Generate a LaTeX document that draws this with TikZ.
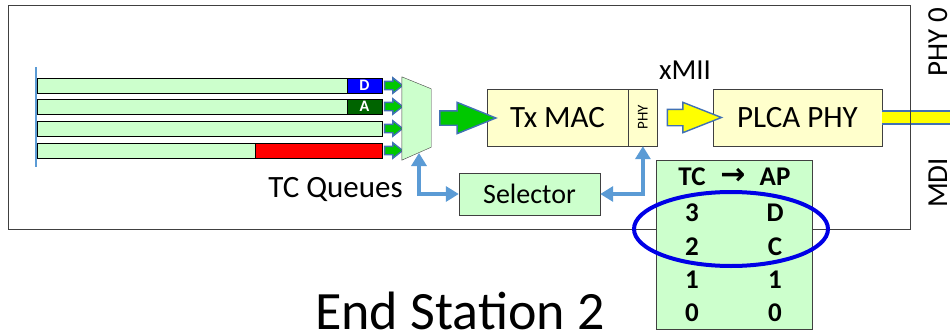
\documentclass[tikz,border=0pt]{standalone}
\usepackage{fontspec}
\setmainfont{Carlito}
\newfontfamily\symfont{DejaVu Sans}
\usetikzlibrary{arrows.meta,positioning,shapes.geometric,shapes.arrows,calc}
\definecolor{qgreen}{RGB}{204,255,204}
\definecolor{boxyellow}{RGB}{255,255,204}
\definecolor{flowgreen}{RGB}{0,200,0}
\definecolor{flowyellow}{RGB}{255,255,0}
\definecolor{linkblue}{RGB}{91,155,213}
\definecolor{edgeblue}{RGB}{65,113,180}
\definecolor{tagdarkgreen}{RGB}{0,100,0}
\definecolor{ringblue}{RGB}{0,0,230}
\newcommand{\fs}[1]{\fontsize{#1}{#1}\selectfont}
\tikzset{
    queuebar/.style={draw, fill=qgreen, minimum width=345pt, minimum height=15pt, inner sep=0pt},
    tagbox/.style={draw, minimum width=35pt, minimum height=15pt, inner sep=0pt,
        text=white, font=\fs{16}\bfseries},
    blockbox/.style={draw=black!75, fill=boxyellow, minimum height=57pt, inner sep=0pt, font=\fs{31}},
    greenbox/.style={draw=black!75, fill=qgreen, inner sep=0pt},
    flowarrow/.style={single arrow, draw=edgeblue, line width=1.4pt, inner xsep=0pt},
    linkarrow/.style={{Triangle[length=13pt,width=15pt]}-{Triangle[length=13pt,width=15pt]},
        draw=linkblue, line width=3.5pt},
    tabtext/.style={font=\fs{27}\bfseries, inner sep=0pt},
    sidetext/.style={rotate=90, font=\fs{29}, inner sep=0pt, anchor=base}
}
\begin{document}
\begin{tikzpicture}[x=1pt, y=-1pt]
\useasboundingbox (0,0) rectangle (950,332);
\coordinate (mdi) at (950,117.5);
\node[blockbox, minimum width=169pt] (plca) at (797.5,117.5) {PLCA PHY};
\draw[edgeblue, line width=15pt] (plca.east) -- (mdi);
\draw[flowyellow, line width=11pt] (plca.east) -- (mdi);
\draw[black!75, line width=0.8pt] (8,5) rectangle (910,229);
\node[sidetext] (phyzero) at (947,42) {PHY 0};
\node[sidetext] (mdilabel) at (947,183) {MDI};

\draw[linkblue, line width=2.6pt] (36,67) -- (36,167);
\foreach \y/\n in {85.5/1, 106.5/2, 128.5/3, 150.5/4} {
    \node[queuebar] (q\n) at (209.5,\y) {};
    \node[flowarrow, fill=flowgreen, minimum height=18pt, inner ysep=3.5pt,
        single arrow head extend=3.5pt, single arrow tip angle=76] (qa\n) at (391,\y) {};
}
\node[tagbox, fill=blue] (tagd) at (364.5,85.5) {D};
\node[tagbox, fill=tagdarkgreen] (taga) at (364.5,106.5) {A};
\node[draw, fill=red, minimum width=127pt, minimum height=15pt, inner sep=0pt] (tagred) at (318.5,150.5) {};
\node[font=\fs{31}] (tcq) at (335.5,189) {TC Queues};

\node[minimum width=29pt, minimum height=83pt, inner sep=0pt] (mux) at (416.5,118.5) {};
\draw[black!75, fill=qgreen] (mux.north west) -- ($(mux.north east)+(0,12)$)
    -- ($(mux.south east)+(0,-13)$) -- (mux.south west) -- cycle;
\coordinate (muxfoot) at (419,153);

\node[blockbox, minimum width=141pt] (txmac) at (557.5,117.5) {Tx MAC};
\node[blockbox, minimum width=29pt, right=0pt of txmac, font=\fs{15}] (phy) {\rotatebox{90}{PHY}};
\node[font=\fs{29}] (xmii) at (685,70) {xMII};

\node[flowarrow, fill=flowgreen, minimum height=56pt, inner ysep=6.5pt,
    single arrow head extend=8.5pt, single arrow tip angle=44] (bigflow) at (459,118) {};
\node[flowarrow, fill=flowyellow, minimum height=54pt, inner ysep=7.5pt,
    single arrow head extend=7pt, single arrow tip angle=43] (miiflow) at (684,117.5) {};

\node[greenbox, minimum width=141pt, minimum height=42pt, font=\fs{28}] (sel) at (529.5,194) {Selector};
\draw[linkarrow] (muxfoot) |- (sel.west);
\draw[linkarrow] (sel.east) -| (phy.south);

\node[greenbox, minimum width=156pt, minimum height=169pt] (map) at (734,244.5) {};
\node[tabtext] (tchead) at (692,177) {TC};
\node[font=\fs{30}\symfont\bfseries, inner sep=0pt] (maparrow) at (733,176) {→};
\node[tabtext] (aphead) at (775,177) {AP};
\foreach \y/\tc/\ap in {213/3/D, 247/2/C, 280/1/1, 313/0/0} {
    \node[tabtext] (tc\tc) at (692,\y) {\tc};
    \node[tabtext] (ap\tc) at (775,\y) {\ap};
}
\draw[ringblue, line width=4pt] (731,229) ellipse [x radius=97pt, y radius=37pt];

\node[font=\fs{54}] (station) at (460,311) {End Station 2};
\end{tikzpicture}
\end{document}
